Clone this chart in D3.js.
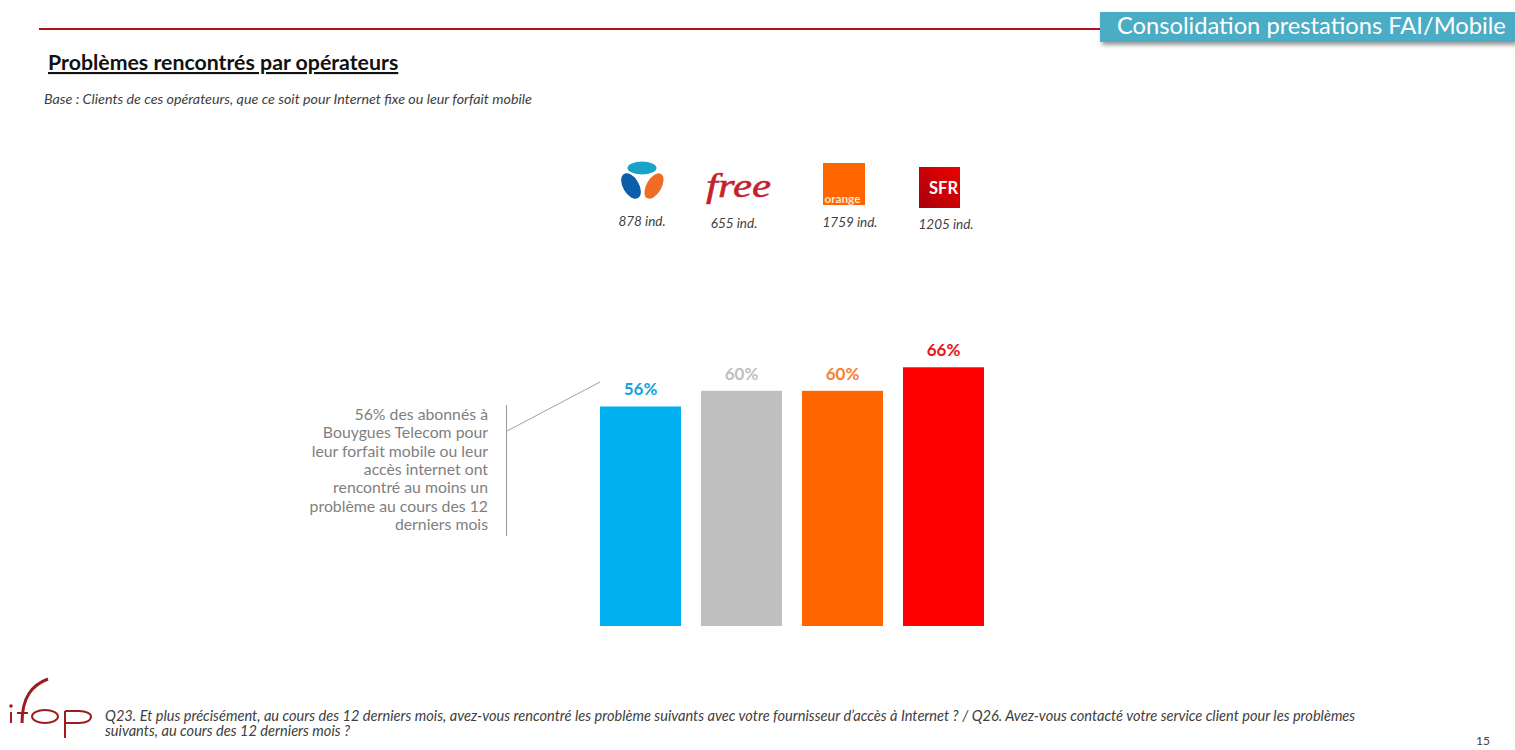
<!DOCTYPE html>
<html>
<head>
<meta charset="utf-8">
<script src="https://cdn.jsdelivr.net/npm/d3@7"></script>
<style>
  html, body { margin: 0; padding: 0; background: #fff; }
  svg { display: block; }
  text { font-family: Lato, "Open Sans", sans-serif; }
</style>
</head>
<body>
<svg id="chart" width="1515" height="750"></svg>
<script>
// Chart data
var operators = ["Bouygues", "Free", "Orange", "SFR"];
var values = [56, 60, 60, 66];
var barColors = ["#00b0f0", "#bfbfbf", "#ff6600", "#ff0000"];
var labelColors = ["#14a3e0", "#bfbfbf", "#f58233", "#e8141c"];
var sampleLabels = ["878 ind.", "655 ind.", "1759 ind.", "1205 ind."];
var noteLines = ["56% des abonnés à", "Bouygues Telecom pour", "leur forfait mobile ou leur", "accès internet ont", "rencontré au moins un", "problème au cours des 12", "derniers mois"];
var questionLines = [
  "Q23. Et plus précisément, au cours des 12 derniers mois, avez-vous rencontré les problème suivants avec votre fournisseur d’accès à Internet ? / Q26. Avez-vous contacté votre service client pour les problèmes",
  "suivants, au cours des 12 derniers mois ?"
];

var svg = d3.select("#chart");

// Shadow + gradient for the header tag and SFR logo
var defs = svg.append("defs");
var shadow = defs.append("filter").attr("id", "tagShadow").attr("x", "-5%").attr("y", "-30%").attr("width", "110%").attr("height", "170%");
shadow.append("feDropShadow").attr("dx", 2).attr("dy", 3).attr("stdDeviation", 2).attr("flood-color", "#555").attr("flood-opacity", 0.6);
var sfrGrad = defs.append("linearGradient").attr("id", "sfrGrad").attr("x1", 1).attr("y1", 0).attr("x2", 0).attr("y2", 1);
sfrGrad.append("stop").attr("offset", "0%").attr("stop-color", "#ee0000");
sfrGrad.append("stop").attr("offset", "100%").attr("stop-color", "#a8000c");

// Header
svg.append("line").attr("x1", 39).attr("x2", 1101).attr("y1", 29).attr("y2", 29)
  .attr("stroke", "#b01116").attr("stroke-width", 2);
svg.append("rect").attr("x", 1100).attr("y", 12).attr("width", 415).attr("height", 30)
  .attr("fill", "#4bacc6").attr("filter", "url(#tagShadow)");
svg.append("text").attr("x", 1117).attr("y", 34).attr("font-size", 23.7).attr("fill", "#fff")
  .text("Consolidation prestations FAI/Mobile");

svg.append("text").attr("x", 48).attr("y", 70).attr("font-size", 21.3).attr("font-weight", 700)
  .attr("fill", "#111").attr("text-decoration", "underline").text("Problèmes rencontrés par opérateurs");
svg.append("text").attr("x", 44).attr("y", 104).attr("font-size", 14.3).attr("font-style", "italic")
  .attr("fill", "#404040").text("Base : Clients de ces opérateurs, que ce soit pour Internet fixe ou leur forfait mobile");

// Scales
var x = d3.scaleBand().domain(operators).range([600, 984]).paddingInner(0.198);
var y = d3.scaleLinear().domain([0, 100]).range([626, 234]);

// Bars
svg.selectAll("rect.bar").data(operators).join("rect")
  .attr("class", "bar")
  .attr("x", d => x(d))
  .attr("width", x.bandwidth())
  .attr("y", (d, i) => y(values[i]))
  .attr("height", (d, i) => y(0) - y(values[i]))
  .attr("fill", (d, i) => barColors[i]);

// Value labels
svg.selectAll("text.val").data(operators).join("text")
  .attr("class", "val")
  .attr("x", d => x(d) + x.bandwidth() / 2)
  .attr("y", (d, i) => y(values[i]) - 11)
  .attr("text-anchor", "middle")
  .attr("font-size", 17)
  .attr("font-weight", 700)
  .attr("fill", (d, i) => labelColors[i])
  .text((d, i) => values[i] + "%");

// Callout
svg.append("line").attr("x1", 506.5).attr("x2", 506.5).attr("y1", 405).attr("y2", 536).attr("stroke", "#999").attr("stroke-width", 1);
svg.append("line").attr("x1", 507).attr("x2", 600).attr("y1", 431).attr("y2", 382).attr("stroke", "#a0a0a0").attr("stroke-width", 1);
svg.selectAll("text.note").data(noteLines).join("text")
  .attr("class", "note")
  .attr("x", 488)
  .attr("y", (d, i) => 420 + i * 18.3)
  .attr("text-anchor", "end")
  .attr("font-size", 15.8)
  .attr("fill", "#7f7f7f")
  .text(d => d);

// Logos
var bouygues = svg.append("g");
bouygues.append("ellipse").attr("cx", 642).attr("cy", 168).attr("rx", 14.5).attr("ry", 6.5).attr("fill", "#1aa3c7");
bouygues.append("ellipse").attr("cx", 631).attr("cy", 186).attr("rx", 8).attr("ry", 14).attr("transform", "rotate(-30 631 186)").attr("fill", "#0b5ea8");
bouygues.append("ellipse").attr("cx", 654).attr("cy", 186).attr("rx", 7.5).attr("ry", 14).attr("transform", "rotate(30 654 186)").attr("fill", "#ee6c25");

svg.append("text").attr("x", 706).attr("y", 197)
  .style("font-family", "'Liberation Serif', serif").attr("font-size", 34).attr("font-style", "italic")
  .attr("fill", "#c4202c").attr("stroke", "#c4202c").attr("stroke-width", 0.5)
  .attr("textLength", 65).attr("lengthAdjust", "spacingAndGlyphs").text("free");

svg.append("rect").attr("x", 823).attr("y", 163).attr("width", 42).attr("height", 42).attr("fill", "#ff6600");
svg.append("text").attr("x", 824.5).attr("y", 203).attr("font-size", 10.5).attr("font-weight", 700).attr("fill", "#fde3cf")
  .attr("textLength", 36).attr("lengthAdjust", "spacingAndGlyphs").text("orange");

svg.append("rect").attr("x", 919).attr("y", 167).attr("width", 41).attr("height", 41).attr("fill", "url(#sfrGrad)");
svg.append("text").attr("x", 943.5).attr("y", 194).attr("text-anchor", "middle").attr("font-size", 16.5).attr("font-weight", 700).attr("fill", "#fff").text("SFR");

// Sample sizes under the logos
var sampleX = [642, 734, 850, 946];
var sampleY = [226, 228, 227, 229];
svg.selectAll("text.sample").data(sampleLabels).join("text")
  .attr("class", "sample")
  .attr("x", (d, i) => sampleX[i])
  .attr("y", (d, i) => sampleY[i])
  .attr("text-anchor", "middle")
  .attr("font-size", 13.5)
  .attr("font-style", "italic")
  .attr("fill", "#404040")
  .text(d => d);

// ifop logo
var ifop = svg.append("g").attr("fill", "none").attr("stroke", "#9c1c1f").attr("stroke-width", 2);
ifop.append("path").attr("d", "M11 712V723");
ifop.append("circle").attr("cx", 11).attr("cy", 706).attr("r", 0.8).attr("fill", "#9c1c1f");
ifop.append("path").attr("d", "M48 679C32 685 22 697 22 723").attr("stroke-width", 3);
ifop.append("path").attr("d", "M17 713H28");
ifop.append("ellipse").attr("cx", 45).attr("cy", 716.5).attr("rx", 13).attr("ry", 6.5);
ifop.append("path").attr("d", "M65 711H79C87 711 91 714 91 716.5C91 720 87 723 79 723H66");
ifop.append("path").attr("d", "M65 711V738");

// Question text and page number
svg.selectAll("text.question").data(questionLines).join("text")
  .attr("class", "question")
  .attr("x", 105)
  .attr("y", (d, i) => 721 + i * 15)
  .attr("font-size", 14.6)
  .attr("font-style", "italic")
  .attr("fill", "#404040")
  .text(d => d);
svg.append("text").attr("x", 1476).attr("y", 745).attr("font-size", 12).attr("fill", "#404040").text("15");
</script>
</body>
</html>
